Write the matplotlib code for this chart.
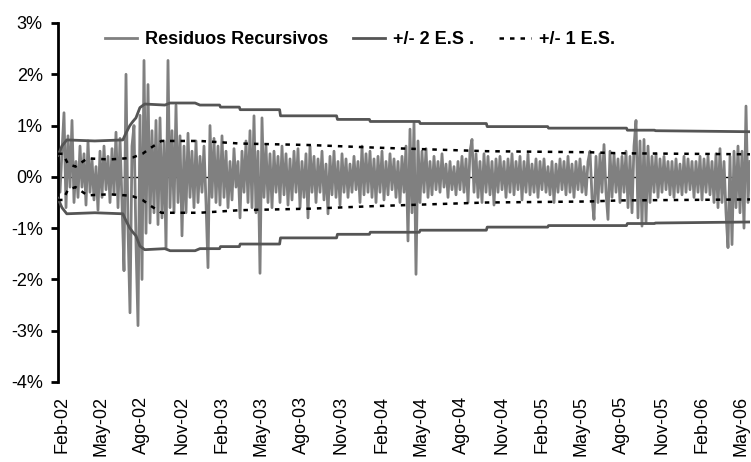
import numpy as np
import pandas as pd
import matplotlib
matplotlib.use('Agg')
import matplotlib.pyplot as plt
from matplotlib.ticker import FuncFormatter

plt.rcParams['font.family'] = ['Liberation Sans', 'DejaVu Sans']

# recursive residuals (%), roughly every 4-5 days
resid = [
    0.4, -0.3, 0.5, 1.25, -0.6, 0.8, -0.2, 1.1, -0.5, 0.3,
    -0.4, 0.6, -0.2, 0.45, -0.55, 0.7, -0.3, 0.35, -0.45, 0.2,
    -0.65, 0.5, -0.4, 0.6, -0.25, 0.4, -0.5, 0.55, -0.35, 0.87,
    -0.6, 0.75, -0.5, -1.83, 2.0, -1.0, -2.65, 0.6, 1.0, -1.3,
    -2.9, 1.2, -2.0, 2.27, -1.1, 1.8, -0.9, 0.9, -0.7, 1.1,
    -0.93, 1.15, -0.8, 0.7, -1.4, 2.27, -0.6, 0.9, -0.7, 1.4,
    -0.5, 0.8, -1.15, 0.6, -0.7, 0.85, -0.4, 0.5, -0.6, 0.7,
    -0.5, 0.4, -0.3, 0.6, -0.5, -1.77, 1.0, -0.4, 0.75, -0.5,
    0.6, -0.55, 0.8, -0.4, 0.5, -0.6, 0.3, -0.45, 0.55, -0.2,
    0.3, -0.8, 0.5, -0.3, 0.7, -0.5, 0.9, -0.6, 1.19, -0.7,
    0.5, -1.88, 1.15, -0.4, 0.6, -0.5, 0.45, -0.6, 0.5, -0.3,
    0.4, -0.5, 0.6, -0.35, 0.45, -0.55, 0.35, -0.45, 0.5, -0.3,
    0.55, -0.6, 0.3, -0.4, 0.45, -0.8, 0.6, -0.3, 0.4, -0.5,
    0.35, -0.3, 0.5, -0.45, 0.25, -0.72, 0.4, -0.35, 0.5, -0.4,
    0.3, -0.55, 0.45, -0.3, 0.35, -0.4, 0.25, -0.3, 0.4, -0.25,
    0.3, -0.5, 0.6, -0.35, 0.45, -0.3, 0.5, -0.4, 0.35, -0.5,
    0.4, -0.3, 0.5, -0.45, 0.3, -0.35, 0.45, -0.25, 0.35, -0.4,
    0.3, -0.5, 0.4, -0.3, 0.6, -1.25, 0.93, -0.7, 1.05, -1.9,
    0.7, -0.5, 0.5, -0.3, 0.55, -0.4, 0.3, -0.35, 0.4, -0.25,
    0.3, -0.3, 0.45, -0.2, 0.25, -0.4, 0.3, -0.25, 0.2, -0.35,
    0.3, -0.25, 0.4, -0.3, 0.35, -0.5, 0.5, 0.73, -0.3, 0.45,
    -0.4, 0.3, -0.5, 0.45, -0.3, 0.4, -0.35, 0.3, -0.55, 0.35,
    -0.3, 0.4, -0.25, 0.3, -0.4, 0.35, -0.3, 0.45, -0.35, 0.3,
    -0.25, 0.4, -0.45, 0.3, -0.3, 0.45, -0.35, 0.25, -0.3, 0.35,
    -0.4, 0.3, -0.25, 0.35, -0.3, 0.2, -0.35, 0.3, -0.5, 0.25,
    -0.3, 0.35, -0.25, 0.3, -0.35, 0.4, -0.3, 0.25, -0.4, 0.3,
    -0.25, 0.35, -0.3, 0.2, -0.35, 0.3, 0.5, -0.4, -0.83, 0.4,
    -0.5, 0.45, -0.3, 0.63, -0.3, -0.83, 0.5, -0.4, 0.45, -0.3,
    0.35, -0.5, 0.4, -0.3, 0.5, -0.6, 0.4, -0.7, 0.6, 1.1,
    -0.8, 0.7, -0.96, 0.73, -0.9, 0.6, -0.5, 0.4, -0.3, 0.45,
    -0.4, 0.35, -0.3, 0.4, -0.25, 0.3, -0.35, 0.3, -0.4, 0.35,
    -0.3, 0.25, -0.35, 0.4, -0.3, 0.35, -0.25, 0.3, -0.4, 0.3,
    -0.3, 0.4, -0.45, 0.35, -0.3, 0.4, -0.35, 0.3, -0.5, 0.45,
    -0.6, 0.55, -0.5, 0.3, -0.7, -1.38, 0.4, -1.32, 0.5, -0.6,
    0.6, -0.7, 0.5, -1.0, 1.38, -0.5, 0.3,
]
resid_start = '2002-01-23'
resid_end = '2006-05-22'

# +/- 2 standard errors (upper half, %)
band2_dates = ['2002-01-23', '2002-02-01', '2002-02-12', '2002-04-17', '2002-06-20',
               '2002-06-27', '2002-07-06', '2002-07-13', '2002-07-20', '2002-07-29',
               '2002-08-09', '2002-09-24', '2002-10-06', '2002-12-02', '2002-12-13',
               '2003-01-27', '2003-01-29', '2003-03-13', '2003-03-15', '2003-06-13',
               '2003-06-15', '2003-10-21', '2003-10-23', '2004-01-04', '2004-01-06',
               '2004-04-27', '2004-04-29', '2004-09-27', '2004-09-29', '2005-02-14',
               '2005-02-16', '2005-08-13', '2005-08-15', '2005-10-16', '2005-10-18',
               '2006-05-22']
band2_vals = [0.42, 0.60, 0.72, 0.70, 0.72, 0.85, 1.00, 1.08, 1.15, 1.35,
              1.42, 1.40, 1.44, 1.44, 1.40, 1.40, 1.36, 1.36, 1.31, 1.31,
              1.19, 1.19, 1.12, 1.12, 1.08, 1.08, 1.04, 1.04, 0.98, 0.98,
              0.95, 0.95, 0.91, 0.91, 0.90, 0.88]

# +/- 1 standard error (upper half, %)
band1_dates = ['2002-01-23', '2002-02-03', '2002-02-15', '2002-03-04', '2002-03-31',
               '2002-05-21', '2002-06-25', '2002-07-13', '2002-08-04', '2002-08-20',
               '2002-09-07', '2002-09-16', '2002-12-13', '2003-03-14', '2003-08-23',
               '2004-01-17', '2004-09-28', '2005-05-19', '2005-07-27', '2006-05-22']
band1_vals = [0.45, 0.45, 0.25, 0.20, 0.36, 0.34, 0.36, 0.38, 0.45, 0.55,
              0.65, 0.70, 0.70, 0.65, 0.62, 0.57, 0.50, 0.48, 0.46, 0.44]

month_names = {2: 'Feb', 5: 'May', 8: 'Ago', 11: 'Nov'}
y_ticks = [3, 2, 1, 0, -1, -2, -3, -4]

res_dates = pd.date_range(resid_start, resid_end, periods=len(resid))
b2d = pd.to_datetime(band2_dates)
b1d = pd.to_datetime(band1_dates)
b2 = np.array(band2_vals)
b1 = np.array(band1_vals)

fig = plt.figure(figsize=(7.51, 4.62), dpi=100)
ax = fig.add_axes([58/751, 1-382/462, 692/751, (382-23)/462])

ax.axhline(0, color='black', lw=1, zorder=1)
ax.plot(res_dates, resid, color='#808080', lw=2.0, zorder=2, label='Residuos Recursivos')
ax.plot(b2d, b2, color='#555555', lw=2, zorder=3, label='+/- 2 E.S .')
ax.plot(b2d, -b2, color='#555555', lw=2, zorder=3)
ax.plot(b1d, b1, color='black', lw=1.8, ls=(0, (1.8, 2.4)), zorder=4, label='+/- 1 E.S.')
ax.plot(b1d, -b1, color='black', lw=1.8, ls=(0, (1.8, 2.4)), zorder=4)

ax.set_xlim(pd.Timestamp(resid_start), pd.Timestamp(resid_end))
ax.set_ylim(-4, 3)
ax.set_yticks(y_ticks)
ax.yaxis.set_major_formatter(FuncFormatter(lambda v, p: '%d%%' % v))

ticks = pd.date_range('2002-02-01', '2006-05-01', freq='3MS')
ax.set_xticks(ticks)
ax.set_xticklabels(['%s-%02d' % (month_names[t.month], t.year % 100) for t in ticks],
                   rotation=90, fontsize=13)
ax.tick_params(axis='x', length=0, pad=10)
ax.tick_params(axis='y', length=5, width=2, pad=6, labelsize=13, direction='out')

for s in ['top', 'right', 'bottom']:
    ax.spines[s].set_visible(False)
ax.spines['left'].set_linewidth(2)

ax.legend(loc='upper left', bbox_to_anchor=(96/751, 1-22/462), bbox_transform=fig.transFigure,
          ncol=3, frameon=False, prop={'weight': 'bold', 'size': 13}, borderpad=0,
          handlelength=1.75, columnspacing=1.4, handletextpad=0.45)

plt.savefig('out.png', dpi=100)
